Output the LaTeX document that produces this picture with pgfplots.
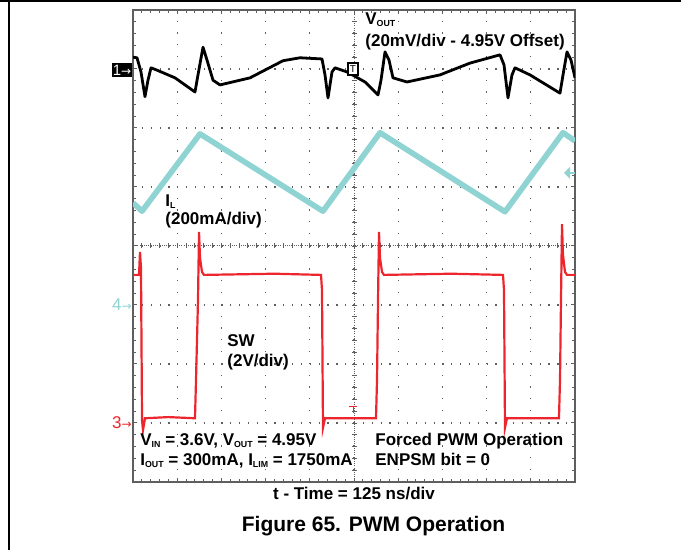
\documentclass[border=0pt]{standalone}
\usepackage{fontspec}
\setmainfont{Liberation Sans}
\newfontfamily\dejavu{DejaVu Sans}
\usepackage{pgfplots}
\pgfplotsset{compat=1.18}
\definecolor{scgray}{RGB}{95,95,95}
\definecolor{ilcyan}{RGB}{143,211,211}
\definecolor{swred}{RGB}{236,38,44}
\newcommand\sub[1]{\raisebox{-0.6pt}{\fontsize{4.4}{5}\selectfont #1}}
\newcommand\lab{\bfseries\fontsize{8.5}{10}\selectfont}
\begin{document}
\begin{tikzpicture}[x=0.5pt,y=0.5pt]
\useasboundingbox (0,0) rectangle (681,550);
\begin{scope}[shift={(0,550)}, y=-0.5pt]
\draw[line width=0.8pt] (0,1) -- (681,1);
\draw[line width=0.8pt] (9,0) -- (9,550);
% centre lines of the graticule
\draw[scgray, line width=0.5pt, dash pattern=on 0.5pt off 0.6pt] (133,246) -- (575,246);
\draw[scgray, line width=0.5pt, dash pattern=on 0.5pt off 0.6pt] (354,10) -- (354,482);
\foreach \k in {1,...,49} \draw[scgray, line width=0.45pt] ({133+\k*8.84},243.5) -- ({133+\k*8.84},248.5);
\foreach \k in {1,...,39} \draw[scgray, line width=0.45pt] (351.5,{10+\k*11.8}) -- (356.5,{10+\k*11.8});
\end{scope}
\begin{axis}[at={(66.5pt,34pt)}, anchor=south west, scale only axis,
  width=221pt, height=236pt,
  xmin=0, xmax=1250, ymin=-4, ymax=4,
  xtick={0,125,...,1250}, ytick={-4,-3,...,4},
  xticklabels={}, yticklabels={},
  major tick length=2pt, minor tick length=1.6pt,
  minor x tick num=4, minor y tick num=4,
  tick align=inside, xtick pos=both, ytick pos=both,
  grid=major,
  x grid style={scgray, line width=0.6pt, dash pattern=on 0.6pt off 5.3pt},
  y grid style={scgray, line width=0.6pt, dash pattern=on 0.6pt off 3.82pt},
  axis line style={scgray, line width=0.75pt},
  tick style={scgray, line width=0.5pt},
  clip=true]
% IL (cyan)
\addplot[ilcyan, line width=2.8pt, line join=round] coordinates {
(0,0.73) (25.5,0.59) (189.5,1.90) (537.3,0.59) (698.5,1.92) (1052,0.58) (1216,1.92) (1250,1.78)};
% SW (red)
\addplot[swred, line width=1.1pt, line join=miter] coordinates {
(0,-0.49) (17,-0.49) (19.8,-0.10) (22.6,-0.37) (25.5,-2.95) (28.3,-3.12) (33.9,-2.92)
(100,-2.90) (175.3,-2.92) (178.2,-2.27) (183.8,-0.92) (186.7,0.24) (189.5,-0.20) (195.1,-0.44) (200.8,-0.49)
(400,-0.47) (531.7,-0.49) (534.5,-0.75) (537.3,-3.08) (543,-2.92) (687.2,-2.92)
(690.1,-2.27) (692.9,-0.92) (695.7,0.24) (698.5,-0.20) (704.2,-0.44) (709.8,-0.49)
(900,-0.47) (1046.4,-0.49) (1049.2,-0.75) (1052,-3.08) (1057.7,-2.92) (1204.7,-2.92)
(1207.6,-2.27) (1210.4,-0.92) (1213.2,0.37) (1216,-0.15) (1221.7,-0.44) (1227.4,-0.49) (1250,-0.49)};
% VOUT (black)
\addplot[black, line width=1.4pt, line join=round] coordinates {
(0,3.20) (11.3,3.19) (22.6,2.95) (33.9,2.53) (42.4,2.81) (50.9,3.02) (67.9,2.98)
(118.8,2.85) (175.3,2.61) (183.8,2.90) (198,3.37) (209.3,3.15) (226.3,2.81) (246,2.73)
(330.9,2.85) (424.2,3.14) (472.3,3.19) (534.5,3.17) (543,2.90) (551.5,2.51) (562.8,2.95)
(571.3,3.02) (605.2,2.95) (656.1,2.78) (692.9,2.56) (701.4,2.81) (712.7,3.29) (724,3.15)
(735.3,2.85) (774.9,2.78) (868.2,2.90) (953.1,3.10) (1037.9,3.24) (1049.2,3.07) (1060.5,2.51)
(1071.8,2.90) (1080.3,3.02) (1122.7,2.90) (1207.6,2.59) (1216.1,2.90) (1227.4,3.29)
(1238.7,3.15) (1250,2.85)};
\end{axis}
\begin{scope}[shift={(0,550)}, y=-0.5pt]
% trigger markers
\draw[black, line width=0.6pt, fill=white] (348,63) rectangle (358,75);
\node[inner sep=0, font=\fontsize{5}{6}\selectfont] at (353,69.5) {T};
\draw[swred, line width=0.5pt] (349,407) -- (357,407) (353,407) -- (353,413);
% channel markers
\node[fill=black, text=white, inner sep=0, minimum width=10pt, minimum height=7.2pt, anchor=east,
  font=\fontsize{7.5}{8}\selectfont] at (132.5,70) {1{\dejavu\fontsize{6}{7}\selectfont→}};
\node[text=ilcyan, inner sep=0, anchor=east, font=\fontsize{8.5}{9}\selectfont] at (132,305) {4{\dejavu\fontsize{6}{7}\selectfont→}};
\node[text=swred, inner sep=0, anchor=east, font=\fontsize{8.5}{9}\selectfont] at (132,423) {3{\dejavu\fontsize{6}{7}\selectfont→}};
\draw[ilcyan, line width=1.4pt] (567,173) -- (575,173);
\fill[ilcyan] (564,173) -- (570,167) -- (570,179) -- cycle;
% labels
\node[anchor=base west, inner sep=0, font=\lab] at (365,25) {V\sub{OUT}};
\node[anchor=base west, inner sep=0, font=\lab] at (365,47) {(20mV/div - 4.95V Offset)};
\node[anchor=base west, inner sep=0, font=\lab] at (165,207) {I\sub{L}};
\node[anchor=base west, inner sep=0, font=\lab] at (165,225) {(200mA/div)};
\node[anchor=base west, inner sep=0, font=\lab] at (227,347) {SW};
\node[anchor=base west, inner sep=0, font=\lab] at (227,367) {(2V/div)};
\node[anchor=base west, inner sep=0, font=\lab] at (140,446) {V\sub{IN} = 3.6V, V\sub{OUT} = 4.95V};
\node[anchor=base west, inner sep=0, font=\lab] at (140,466) {I\sub{OUT} = 300mA, I\sub{LIM} = 1750mA};
\node[anchor=base west, inner sep=0, font=\lab] at (375,446) {Forced PWM Operation};
\node[anchor=base west, inner sep=0, font=\lab] at (375,466) {ENPSM bit = 0};
\node[anchor=base, inner sep=0, font=\lab] at (354,500) {t - Time = 125 ns/div};
\node[anchor=base, inner sep=0, font=\bfseries\fontsize{10.5}{12}\selectfont] at (373.5,532) {Figure 65. PWM Operation};
\end{scope}
\end{tikzpicture}
\end{document}
